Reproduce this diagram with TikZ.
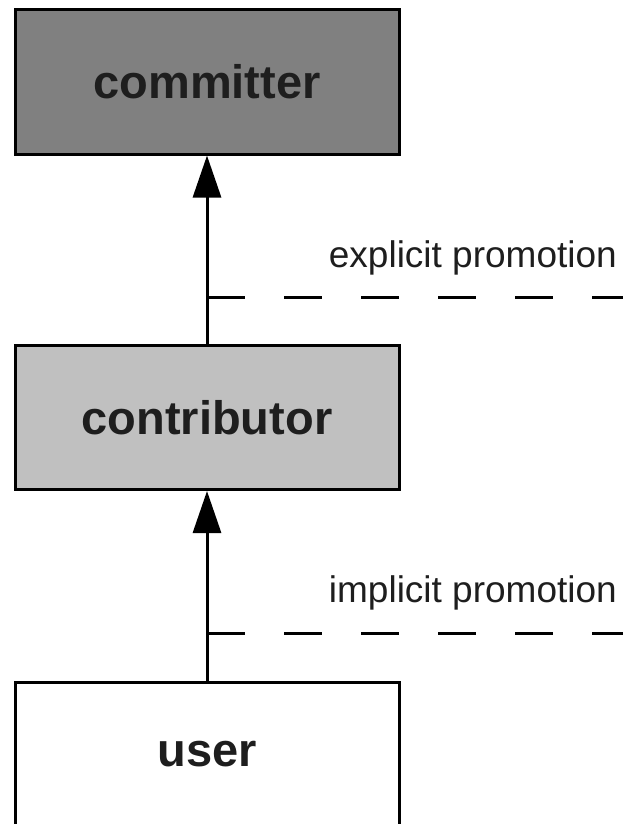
\documentclass[tikz,border=0pt]{standalone}
\usepackage{fontspec}
\setmainfont{Liberation Sans}
\usetikzlibrary{arrows.meta}
\definecolor{txt}{HTML}{1E1E1E}
\tikzset{
  role/.style={draw=black, line width=3pt, minimum width=384pt, minimum height=144pt,
    inner sep=0pt, text=txt, font=\fontsize{47}{51}\selectfont\bfseries},
  promo/.style={line width=3pt, -{Triangle[width=28pt,length=42pt]}},
  border/.style={line width=3pt, dash pattern=on 38pt off 39pt},
  lbl/.style={anchor=base east, inner sep=0pt, text=txt, font=\fontsize{37}{41}\selectfont}
}
\begin{document}
\begin{tikzpicture}[x=1pt,y=-1pt]
\useasboundingbox (0,0) rectangle (623,824);
\node[role, fill={rgb,255:red,128;green,128;blue,128}] (comm) at (207,82) {committer};
\node[role, fill={rgb,255:red,192;green,192;blue,192}] (contrib) at (207,417.5) {contributor};
\node[role, fill=white] (user) at (207,754) {user};
\draw[promo] (contrib.north) -- (comm.south);
\draw[promo] (user.north) -- (contrib.south);
\coordinate (d1) at (207,297);
\coordinate (e1) at (623,297);
\coordinate (d2) at (207,633);
\coordinate (e2) at (623,633);
\draw[border] (d1) -- (e1);
\draw[border] (d2) -- (e2);
\node[lbl] (l1) at (617,267) {explicit promotion};
\node[lbl] (l2) at (617,602) {implicit promotion};
\end{tikzpicture}
\end{document}
